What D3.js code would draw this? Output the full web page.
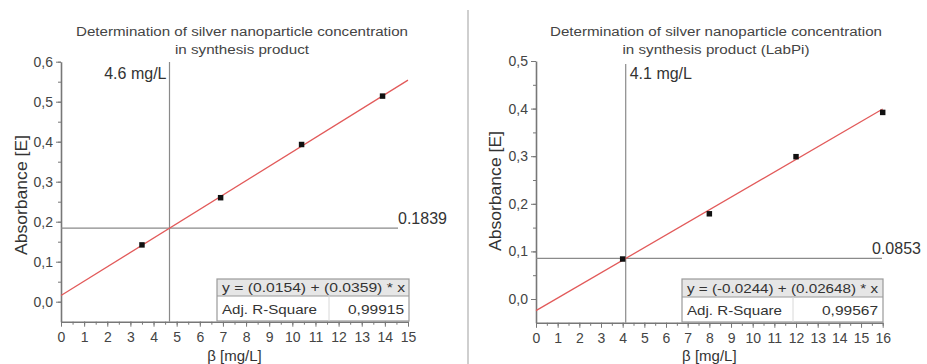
<!DOCTYPE html>
<html>
<head>
<meta charset="utf-8">
<script src="https://cdn.jsdelivr.net/npm/d3@7"></script>
<style>
  body { margin: 0; background: #fff; }
  svg { display: block; font-family: "Liberation Sans", Arial, sans-serif; }
</style>
</head>
<body>
<svg id="chart" width="927" height="364"></svg>
<script>
"use strict";

// left panel: synthesis product
const leftConc = [3.5, 6.9, 10.4, 13.9];
const leftAbs = [0.142, 0.260, 0.393, 0.514];
const leftFit = [0.0154, 0.0359];            // intercept, slope
const leftCross = [4.69, 0.1839];
const leftXTicks = [0, 1, 2, 3, 4, 5, 6, 7, 8, 9, 10, 11, 12, 13, 14, 15];
const leftYTicks = [0, 0.1, 0.2, 0.3, 0.4, 0.5, 0.6];

// right panel: LabPi
const rightConc = [4, 8, 12, 16];
const rightAbs = [0.084, 0.179, 0.299, 0.392];
const rightFit = [-0.0244, 0.02648];
const rightCross = [4.14, 0.0853];
const rightXTicks = [0, 1, 2, 3, 4, 5, 6, 7, 8, 9, 10, 11, 12, 13, 14, 15, 16];
const rightYTicks = [0, 0.1, 0.2, 0.3, 0.4, 0.5];

const svg = d3.select("#chart");
const comma = v => d3.format(".1f")(v).replace(".", ",");

// thin separator between the two panels
svg.append("line")
  .attr("x1", 468).attr("x2", 468)
  .attr("y1", 10).attr("y2", 364)
  .attr("stroke", "#cfcfcf")
  .attr("stroke-width", 2);

function drawPanel(p) {
  const x = d3.scaleLinear().domain(p.xDomain).range(p.xRange);
  const y = d3.scaleLinear().domain(p.yDomain).range(p.yRange);
  const g = svg.append("g");

  // title
  p.title.forEach((t, i) => {
    g.append("text")
      .attr("x", p.titleX)
      .attr("y", 36 + i * 18)
      .attr("text-anchor", "middle")
      .attr("font-size", 12)
      .attr("fill", "#444")
      .attr("textLength", p.titleWidths[i])
      .attr("lengthAdjust", "spacingAndGlyphs")
      .text(t);
  });

  // minor ticks
  g.append("g")
    .attr("transform", `translate(0,${p.yRange[0]})`)
    .call(d3.axisBottom(x).tickValues(d3.range(p.xDomain[0], p.xDomain[1] + 0.01, 0.5)).tickSize(3).tickFormat(""))
    .call(s => s.select(".domain").remove())
    .selectAll("line").attr("stroke", "#777");
  g.append("g")
    .attr("transform", `translate(${p.xRange[0]},0)`)
    .call(d3.axisLeft(y).tickValues(d3.range(0, p.yDomain[1] + 0.001, 0.05)).tickSize(3).tickFormat(""))
    .call(s => s.select(".domain").remove())
    .selectAll("line").attr("stroke", "#777");

  // major axes
  const xAxis = g.append("g")
    .attr("transform", `translate(0,${p.yRange[0]})`)
    .call(d3.axisBottom(x).tickValues(p.xTicks).tickSize(5).tickSizeOuter(0).tickPadding(5));
  const yAxis = g.append("g")
    .attr("transform", `translate(${p.xRange[0]},0)`)
    .call(d3.axisLeft(y).tickValues(p.yTicks).tickSize(5).tickSizeOuter(0).tickPadding(3).tickFormat(comma));
  [xAxis, yAxis].forEach(a => {
    a.select(".domain").attr("stroke", "#777").attr("stroke-width", 1.6);
    a.selectAll(".tick line").attr("stroke", "#777");
    a.selectAll("text").attr("font-size", 14).attr("fill", "#444").attr("font-family", "Liberation Sans, Arial, sans-serif");
  });

  // axis titles
  g.append("text")
    .attr("x", (p.xRange[0] + p.xRange[1]) / 2)
    .attr("y", 361)
    .attr("text-anchor", "middle")
    .attr("font-size", 15)
    .attr("fill", "#333")
    .text("β [mg/L]");
  g.append("text")
    .attr("transform", `translate(${p.yLabelX},${p.yLabelY}) rotate(-90)`)
    .attr("text-anchor", "middle")
    .attr("font-size", 16)
    .attr("fill", "#333")
    .attr("textLength", 120)
    .attr("lengthAdjust", "spacingAndGlyphs")
    .text("Absorbance [E]");

  // crosshair
  g.append("line")
    .attr("x1", x(p.cross[0])).attr("x2", x(p.cross[0]))
    .attr("y1", p.crossTop).attr("y2", p.yRange[0])
    .attr("stroke", "#8a8a8a").attr("stroke-width", 1.2);
  g.append("line")
    .attr("x1", p.xRange[0]).attr("x2", p.hLineEnd)
    .attr("y1", y(p.cross[1])).attr("y2", y(p.cross[1]))
    .attr("stroke", "#8a8a8a").attr("stroke-width", 1.2);

  g.append("text")
    .attr("x", x(p.cross[0]) + p.vLabelDx)
    .attr("y", 79)
    .attr("text-anchor", p.vLabelAnchor)
    .attr("font-size", 16)
    .attr("fill", "#333")
    .text(p.vLabel);
  g.append("text")
    .attr("x", p.hLabelX)
    .attr("y", y(p.cross[1]) - 4)
    .attr("font-size", 16)
    .attr("fill", "#333")
    .text(p.hLabel);

  // fit line
  const fitEnds = p.xDomain.map(v => [v, p.fit[0] + p.fit[1] * v]);
  g.append("path")
    .datum(fitEnds)
    .attr("fill", "none")
    .attr("stroke", "#e25a5a")
    .attr("stroke-width", 1.3)
    .attr("d", d3.line().x(d => x(d[0])).y(d => y(d[1])));

  // measured points
  g.selectAll(".pt")
    .data(p.conc.map((c, i) => [c, p.abs[i]]))
    .enter()
    .append("path")
    .attr("class", "pt")
    .attr("transform", d => `translate(${x(d[0])},${y(d[1])})`)
    .attr("d", d3.symbol(d3.symbolSquare, 30))
    .attr("fill", "#111");

  // fit table
  const t = p.table;
  const tb = g.append("g");
  tb.append("rect")
    .attr("x", t.x).attr("y", t.y).attr("width", t.w).attr("height", t.h1)
    .attr("fill", "#e6e6e6");
  tb.append("rect")
    .attr("x", t.x).attr("y", t.y).attr("width", t.w).attr("height", t.h1 + t.h2)
    .attr("fill", "none").attr("stroke", "#9a9a9a").attr("stroke-width", 1.2);
  tb.append("line")
    .attr("x1", t.x).attr("x2", t.x + t.w)
    .attr("y1", t.y + t.h1).attr("y2", t.y + t.h1)
    .attr("stroke", "#9a9a9a").attr("stroke-width", 1.2);
  tb.append("line")
    .attr("x1", t.split).attr("x2", t.split)
    .attr("y1", t.y + t.h1).attr("y2", t.y + t.h1 + t.h2)
    .attr("stroke", "#d8d8d8").attr("stroke-width", 1);
  tb.append("text")
    .attr("x", t.x + 5).attr("y", t.y + t.h1 - 4)
    .attr("font-size", 13).attr("fill", "#333")
    .attr("textLength", t.eqWidth).attr("lengthAdjust", "spacingAndGlyphs")
    .text(t.eq);
  tb.append("text")
    .attr("x", t.x + 5).attr("y", t.y + t.h1 + t.h2 - 7)
    .attr("font-size", 13).attr("fill", "#333")
    .attr("textLength", 95).attr("lengthAdjust", "spacingAndGlyphs")
    .text("Adj. R-Square");
  tb.append("text")
    .attr("x", t.x + t.w - 5).attr("y", t.y + t.h1 + t.h2 - 7)
    .attr("text-anchor", "end")
    .attr("font-size", 13).attr("fill", "#333")
    .attr("textLength", 56).attr("lengthAdjust", "spacingAndGlyphs")
    .text(t.r2);
}

drawPanel({
  title: ["Determination of silver nanoparticle concentration", "in synthesis product"],
  titleX: 242, titleWidths: [332, 134],
  xDomain: [0, 15], xRange: [61, 408],
  yDomain: [-0.05, 0.6], yRange: [321.7, 61.7],
  xTicks: leftXTicks, yTicks: leftYTicks,
  conc: leftConc, abs: leftAbs, fit: leftFit, cross: leftCross,
  crossTop: 62, hLineEnd: 398,
  vLabel: "4.6 mg/L", vLabelDx: -3, vLabelAnchor: "end",
  hLabel: "0.1839", hLabelX: 398,
  yLabelX: 27, yLabelY: 195,
  table: { x: 217, y: 279, w: 192, h1: 17, h2: 25, split: 329,
    eq: "y = (0.0154) + (0.0359) * x", eqWidth: 183, r2: "0,99915" }
});

drawPanel({
  title: ["Determination of silver nanoparticle concentration", "in synthesis product (LabPi)"],
  titleX: 716, titleWidths: [332, 187],
  xDomain: [0, 16], xRange: [536, 882.7],
  yDomain: [-0.05, 0.5], yRange: [322.8, 61],
  xTicks: rightXTicks, yTicks: rightYTicks,
  conc: rightConc, abs: rightAbs, fit: rightFit, cross: rightCross,
  crossTop: 64, hLineEnd: 882,
  vLabel: "4.1 mg/L", vLabelDx: 4, vLabelAnchor: "start",
  hLabel: "0.0853", hLabelX: 872,
  yLabelX: 501, yLabelY: 191,
  table: { x: 682, y: 279, w: 201, h1: 18, h2: 25, split: 793,
    eq: "y = (-0.0244) + (0.02648) * x", eqWidth: 191, r2: "0,99567" }
});
</script>
</body>
</html>
